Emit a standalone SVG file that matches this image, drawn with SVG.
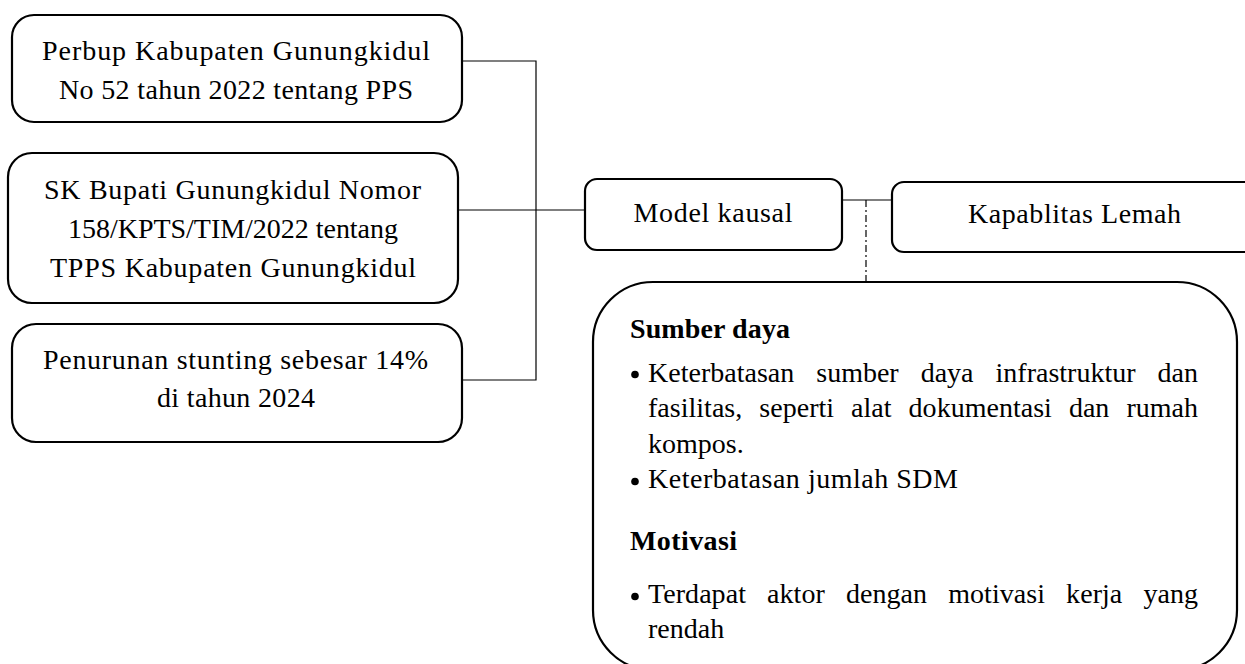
<svg xmlns="http://www.w3.org/2000/svg" width="1245" height="664" viewBox="0 0 1245 664">
<style>
.box{fill:#fff;stroke:#000;stroke-width:2.2}
.t{font-family:"Liberation Serif","Times New Roman",serif;font-size:28px;fill:#000}
.c{text-anchor:middle}
.b{font-weight:bold}
.ln{stroke:#000;stroke-width:1.2;fill:none}
</style>
<rect width="1245" height="664" fill="#fff"/>
<g id="connectors">
<polyline class="ln" points="462,61 536,61 536,380 462,380"/>
<line class="ln" x1="458" y1="210" x2="585" y2="210"/>
<line class="ln" x1="842" y1="200" x2="892" y2="200"/>
<line class="ln" x1="866" y1="200" x2="866" y2="282" stroke-dasharray="7,3,2,3"/>
</g>
<g id="perbup">
<rect class="box" x="12" y="15" width="450" height="107" rx="22"/>
<text class="t c" x="236" y="60" textLength="388">Perbup Kabupaten Gunungkidul</text>
<text class="t c" x="236" y="99" textLength="354">No 52 tahun 2022 tentang PPS</text>
</g>
<g id="sk">
<rect class="box" x="8" y="153" width="450" height="150" rx="24"/>
<text class="t c" x="232.5" y="199" textLength="377">SK Bupati Gunungkidul Nomor</text>
<text class="t c" x="233" y="238" textLength="330">158/KPTS/TIM/2022 tentang</text>
<text class="t c" x="233" y="277" textLength="366">TPPS Kabupaten Gunungkidul</text>
</g>
<g id="penurunan">
<rect class="box" x="12" y="324" width="450" height="118" rx="24"/>
<text class="t c" x="235.5" y="369" textLength="385">Penurunan stunting sebesar 14%</text>
<text class="t c" x="236" y="407" textLength="158">di tahun 2024</text>
</g>
<g id="model">
<rect class="box" x="585" y="179" width="257" height="71" rx="12"/>
<text class="t c" x="713" y="222" textLength="159">Model kausal</text>
</g>
<g id="kapablitas">
<rect class="box" x="892" y="182" width="380" height="70" rx="12"/>
<text class="t c" x="1074.5" y="223" textLength="213">Kapablitas Lemah</text>
</g>
<g id="detail">
<rect class="box" x="593" y="282" width="644" height="388" rx="60"/>
<text class="t b" x="630" y="338" textLength="160">Sumber daya</text>
<circle cx="635" cy="374.5" r="3.8"/>
<text class="t" x="648" y="382" word-spacing="15" textLength="550">Keterbatasan sumber daya infrastruktur dan</text>
<text class="t" x="648" y="417" word-spacing="10" textLength="550">fasilitas, seperti alat dokumentasi dan rumah</text>
<text class="t" x="648" y="453">kompos.</text>
<circle cx="635" cy="481.5" r="3.8"/>
<text class="t" x="648" y="488" textLength="310">Keterbatasan jumlah SDM</text>
<text class="t b" x="630" y="550" textLength="107">Motivasi</text>
<circle cx="635" cy="596.5" r="3.8"/>
<text class="t" x="648" y="603" word-spacing="14" textLength="550">Terdapat aktor dengan motivasi kerja yang</text>
<text class="t" x="648" y="638">rendah</text>
</g>
</svg>
